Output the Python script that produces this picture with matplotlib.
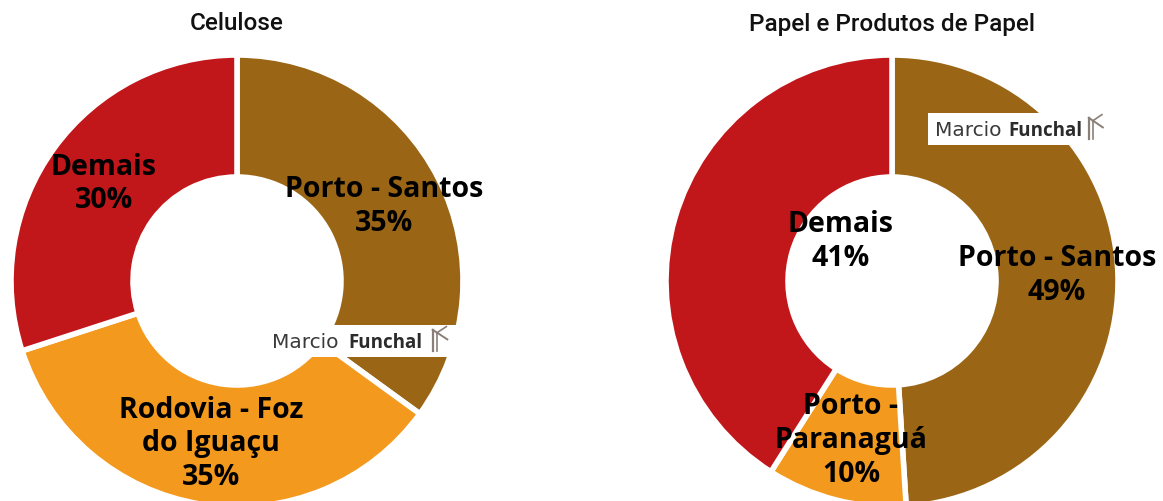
import numpy as np
import matplotlib.pyplot as plt

# Data
titles = ['Celulose', 'Papel e Produtos de Papel']
labels_cel = ['Porto - Santos', 'Rodovia - Foz\ndo Iguaçu', 'Demais']
values_cel = [35, 35, 30]
labels_pap = ['Porto - Santos', 'Porto -\nParanaguá', 'Demais']
values_pap = [49, 10, 41]

colors = ['#9A6615', '#F39A1E', '#C1171B']

W, H = 1163, 501
fig = plt.figure(figsize=(W / 100, H / 100), dpi=100)

R_PX = 226
hole = 104 / 226


def donut(cx, cy, values, labels, title, label_pos):
    # axes placed so that radius 1 equals R_PX pixels
    ax = fig.add_axes([(cx - R_PX) / W, (H - cy - R_PX) / H, 2 * R_PX / W, 2 * R_PX / H])
    wedges, _ = ax.pie(values, colors=colors, startangle=90, counterclock=False,
                       wedgeprops=dict(width=1 - hole, edgecolor='white', linewidth=4))
    ax.set_xlim(-1, 1)
    ax.set_ylim(-1, 1)
    ax.set_aspect('equal')
    ax.axis('off')
    for w, lab, v, pos in zip(wedges, labels, values, label_pos):
        r, ang = pos
        if ang is None:
            ang = (w.theta1 + w.theta2) / 2
        ang = np.radians(ang)
        ax.text(r * np.cos(ang), r * np.sin(ang), f'{lab}\n{v}%', ha='center', va='center',
                fontsize=20.5, fontweight='bold', family='Open Sans', linespacing=1.22,
                color='black', clip_on=False)
    fig.text(cx / W, 1 - 24 / H, title, ha='center', va='center', fontsize=17.5,
             family='Roboto', fontweight='medium', color='#111111')
    return ax


def logo(x0, y0, x1, y1):
    # white box with the watermark
    ax = fig.add_axes([x0 / W, 1 - y1 / H, (x1 - x0) / W, (y1 - y0) / H])
    ax.set_xlim(0, 1)
    ax.set_ylim(0, 1)
    ax.set_facecolor('white')
    ax.set_xticks([])
    ax.set_yticks([])
    for s in ax.spines.values():
        s.set_visible(False)
    ax.text(0.035, 0.45, 'Marcio', ha='left', va='center', fontsize=14.5,
            family='DejaVu Sans', color='#3a3a3a')
    ax.text(0.43, 0.45, 'Funchal', ha='left', va='center', fontsize=13.5, family='Open Sans',
            fontweight='bold', color='#2b2b2b')
    # small F-rune mark
    c = '#8a7f78'
    ax.plot([0.86, 0.86], [0.2, 0.85], color=c, lw=1.6)
    ax.plot([0.88, 0.88], [0.2, 0.75], color=c, lw=1.2)
    ax.plot([0.86, 0.935], [0.85, 0.55], color=c, lw=1.4)
    ax.plot([0.88, 0.93], [0.75, 0.95], color=c, lw=1.2)


donut(237, 281, values_cel, labels_cel, titles[0], [(0.73, None)] * 3)
donut(892, 281, values_pap, labels_pap, titles[1], [(0.73, None), (0.73, None), (0.285, 142.6)])

logo(265, 325, 460, 357)
logo(928, 113, 1115, 145)

fig.savefig('out.png', dpi=100)
